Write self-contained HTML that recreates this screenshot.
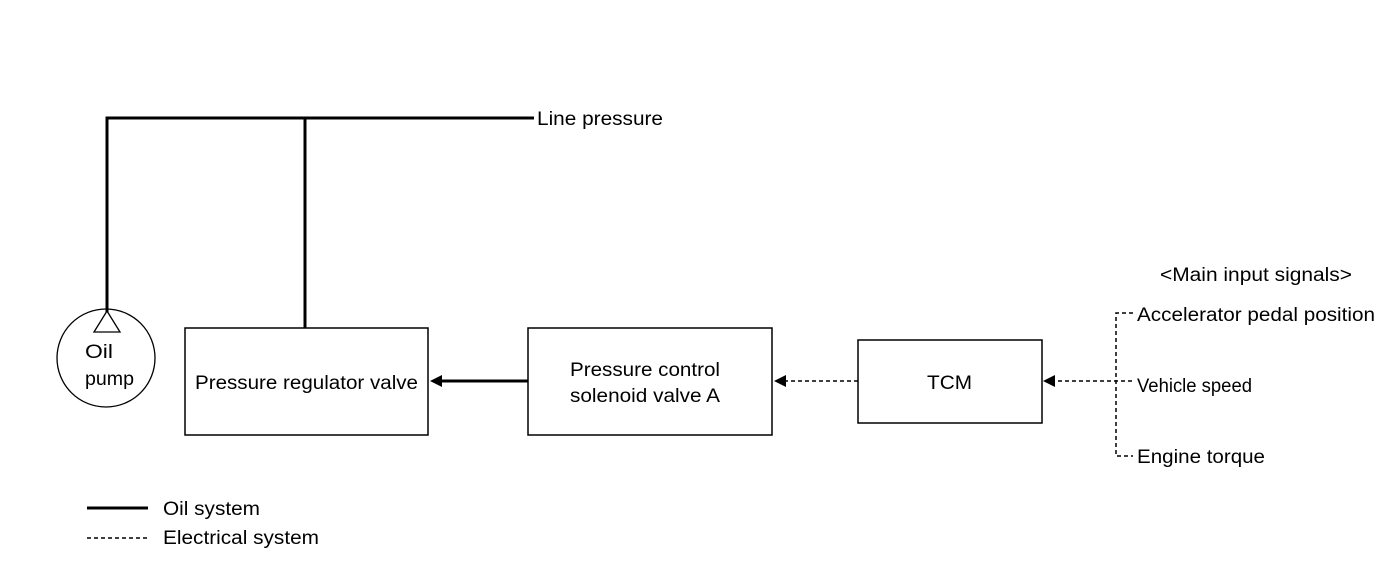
<!DOCTYPE html>
<html><head><style>body{margin:0;background:#fff}</style></head><body>
<svg width="1392" height="564" xmlns="http://www.w3.org/2000/svg" font-family="Liberation Sans, sans-serif" font-size="19" fill="#000">
<rect width="1392" height="564" fill="#fff"/>
<g stroke="#000" stroke-width="3" fill="none">
<polyline points="107,312 107,118 534,118"/>
<line x1="305" y1="118" x2="305" y2="328"/>
<line x1="528" y1="381" x2="440" y2="381"/>
<line x1="87" y1="508" x2="148" y2="508"/>
</g>
<polygon points="430,381 442,375 442,387" fill="#000"/>
<circle cx="106" cy="358" r="49" fill="none" stroke="#000" stroke-width="1.3"/>
<polygon points="107,311 94,332 120,332" fill="#fff" stroke="#000" stroke-width="1.3"/>
<g fill="#fff" stroke="#000" stroke-width="1.5">
<rect x="185" y="328" width="243" height="107"/>
<rect x="528" y="328" width="244" height="107"/>
<rect x="858" y="340" width="184" height="83"/>
</g>
<g stroke="#000" stroke-width="1.5" stroke-dasharray="4,3" fill="none">
<line x1="858" y1="381" x2="784" y2="381"/>
<line x1="1132" y1="381" x2="1054" y2="381"/>
<polyline points="1133,313 1116,313 1116,456 1133,456"/>
<line x1="87" y1="538" x2="148" y2="538"/>
</g>
<polygon points="774,381 786,375 786,387" fill="#000"/>
<polygon points="1043,381 1055,375 1055,387" fill="#000"/>
<g lengthAdjust="spacingAndGlyphs">
<text x="537" y="125" textLength="126" lengthAdjust="spacingAndGlyphs">Line pressure</text>
<text x="85" y="358" textLength="28" lengthAdjust="spacingAndGlyphs">Oil</text>
<text x="85" y="385" textLength="49" lengthAdjust="spacingAndGlyphs">pump</text>
<text x="195" y="389" textLength="223" lengthAdjust="spacingAndGlyphs">Pressure regulator valve</text>
<text x="570" y="376" textLength="150" lengthAdjust="spacingAndGlyphs">Pressure control</text>
<text x="570" y="402" textLength="150" lengthAdjust="spacingAndGlyphs">solenoid valve A</text>
<text x="927" y="389" textLength="45" lengthAdjust="spacingAndGlyphs">TCM</text>
<text x="1160" y="281" textLength="192" lengthAdjust="spacingAndGlyphs">&lt;Main input signals&gt;</text>
<text x="1137" y="321" textLength="238" lengthAdjust="spacingAndGlyphs">Accelerator pedal position</text>
<text x="1137" y="392" textLength="115" lengthAdjust="spacingAndGlyphs">Vehicle speed</text>
<text x="1137" y="463" textLength="128" lengthAdjust="spacingAndGlyphs">Engine torque</text>
<text x="163" y="515" textLength="97" lengthAdjust="spacingAndGlyphs">Oil system</text>
<text x="163" y="544" textLength="156" lengthAdjust="spacingAndGlyphs">Electrical system</text>
</g>
</svg>
</body></html>
